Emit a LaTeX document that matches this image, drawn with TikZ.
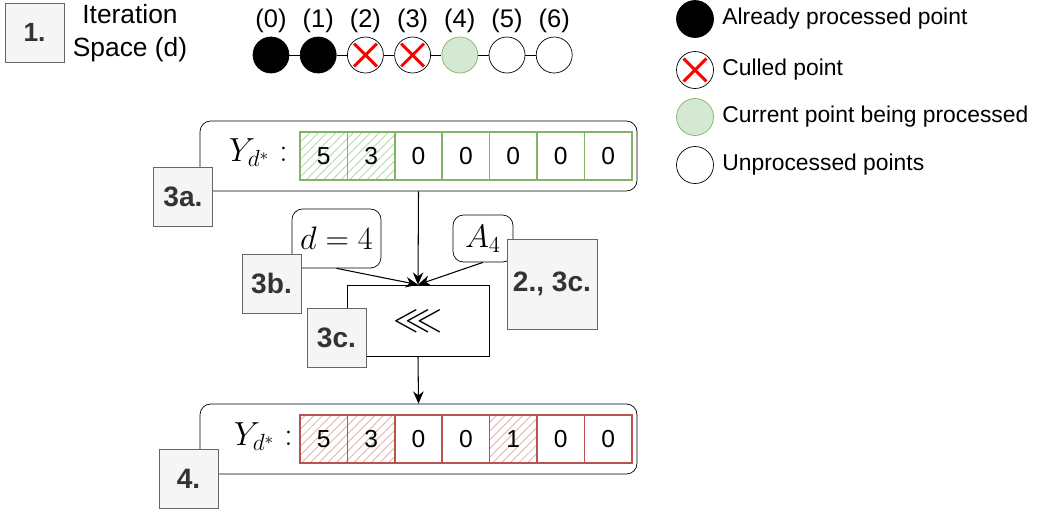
\RequirePackage{fix-cm}
\documentclass[tikz,border=0pt]{standalone}
\usepackage{amssymb}
\usepackage{fontspec}
\setmainfont{Liberation Sans}
\usetikzlibrary{arrows.meta,patterns.meta}

\definecolor{lblfill}{HTML}{F5F5F5}
\definecolor{lblline}{HTML}{666666}
\definecolor{lbltext}{HTML}{333333}
\definecolor{okline}{HTML}{82B366}
\definecolor{okfill}{HTML}{D5E8D4}
\definecolor{badline}{HTML}{B85450}
\definecolor{badfill}{HTML}{F8CECC}

\tikzstyle{pt}=[shape=circle,draw,minimum size=0.72cm,inner sep=0pt]
\tikzstyle{done}=[pt,fill=black]
\tikzstyle{cull}=[pt,fill=white,path picture={
    \draw[red,line width=1.7pt]
      ([shift={(-6.5pt,-6.5pt)}]path picture bounding box.center) -- ([shift={(6.5pt,6.5pt)}]path picture bounding box.center)
      ([shift={(-6.5pt,6.5pt)}]path picture bounding box.center) -- ([shift={(6.5pt,-6.5pt)}]path picture bounding box.center);}]
\tikzstyle{cur}=[pt,draw=okline,fill=okfill]
\tikzstyle{todo}=[pt,fill=white]
\tikzstyle{lbl}=[draw=lblline,fill=lblfill,text=lbltext,font=\fontsize{16}{19}\selectfont\bfseries,minimum width=1.18cm,minimum height=1.18cm,inner sep=0pt]
\tikzstyle{frame}=[draw,rounded corners=6pt,minimum width=8.74cm,minimum height=1.4cm,inner sep=0pt]
\tikzstyle{cell}=[draw,line width=0.9pt,minimum width=0.948cm,minimum height=0.96cm,inner sep=0pt,font=\fontsize{14}{17}\selectfont]
\tikzstyle{cellok}=[cell,draw=okline]
\tikzstyle{cellbad}=[cell,draw=badline]
\tikzstyle{hatchok}=[pattern={Lines[angle=45,distance=3.5pt,line width=0.5pt]},pattern color=okline!55]
\tikzstyle{hatchbad}=[pattern={Lines[angle=45,distance=3.5pt,line width=0.5pt]},pattern color=badline!45]
\tikzstyle{nohatch}=[]
\tikzstyle{tag}=[draw,rounded corners=6pt,inner sep=0pt,font=\fontsize{18.5}{22}\selectfont]
\tikzstyle{flow}=[-{Stealth[length=7pt,width=6pt]},semithick]
\tikzstyle{legend}=[anchor=west,inner sep=0pt,font=\fontsize{13}{16}\selectfont]
\tikzstyle{ylab}=[anchor=east,inner sep=0pt,font=\fontsize{19}{22}\selectfont]

\begin{document}
\begin{tikzpicture}[x=0.02cm,y=-0.02cm]
    \useasboundingbox (0,0) rectangle (1050,512);

    % iteration space
    \node[lbl,font=\fontsize{15}{18}\selectfont\bfseries] (s1) at (34.5,32.5) {1.};
    \node[align=center,font=\fontsize{15}{19}\selectfont] (iter) at (130,33) {Iteration\\Space (d)};
    \foreach \s [count=\i from 0] in {done,done,cull,cull,cur,todo,todo} {
        \node[\s] (c\i) at (271+47.2*\i,55) {};
        \node[font=\fontsize{14.5}{17}\selectfont] (n\i) at (271+47.2*\i,21) {(\i)};
    }
    \foreach \i [count=\j from 1] in {0,...,5} {
        \draw (c\i) -- (c\j);
    }

    % legend
    \node[done,minimum size=0.74cm] (l0) at (695,19) {};
    \node[cull,minimum size=0.74cm] (l1) at (695,70) {};
    \node[cur,minimum size=0.74cm] (l2) at (695,117) {};
    \node[todo,minimum size=0.74cm] (l3) at (695,165) {};
    \node[legend] (t0) at (722,19) {Already processed point};
    \node[legend] (t1) at (722,70) {Culled point};
    \node[legend] (t2) at (722,117) {Current point being processed};
    \node[legend] (t3) at (722,165) {Unprocessed points};

    % Y before
    \node[frame] (ya) at (418.5,156) {};
    \node[ylab] (yla) at (288,153) {$Y_{d^*}:$};
    \foreach \v/\h [count=\i from 0] in {5/hatchok,3/hatchok,0/nohatch,0/nohatch,0/nohatch,0/nohatch,0/nohatch} {
        \node[cellok,\h] (a\i) at (323.7+47.4*\i,156) {\v};
    }
    \node[lbl] (s3a) at (183,196.5) {3a.};

    % shift
    \node[tag,minimum width=1.78cm,minimum height=1.18cm] (dd) at (336.5,238.5) {$d=4$};
    \node[lbl] (s3b) at (271.5,283.5) {3b.};
    \node[tag,minimum width=1.2cm,minimum height=0.94cm] (aa) at (483,238.5) {$A_4$};
    \node[lbl,minimum width=1.8cm,minimum height=1.8cm] (s2) at (552,284) {2., 3c.};
    \node[draw,minimum width=2.84cm,minimum height=1.42cm,font=\fontsize{21}{24}\selectfont] (sh) at (418,320.5) {$\lll$};
    \node[lbl] (s3c) at (336.5,337.5) {3c.};

    \draw[flow] (ya.south) -- (sh.north);
    \draw[flow] (dd.south) -- (sh.north);
    \draw[flow] (aa.south) -- (sh.north);

    % Y after
    \node[frame] (yb) at (418.5,439) {};
    \draw[flow] (sh.south) -- (yb.north);
    \node[ylab] (ylb) at (293,437) {$Y_{d^*}:$};
    \foreach \v/\h [count=\i from 0] in {5/hatchbad,3/hatchbad,0/nohatch,0/nohatch,1/hatchbad,0/nohatch,0/nohatch} {
        \node[cellbad,\h] (b\i) at (323.7+47.4*\i,439) {\v};
    }
    \node[lbl] (s4) at (188.5,479) {4.};
\end{tikzpicture}
\end{document}
